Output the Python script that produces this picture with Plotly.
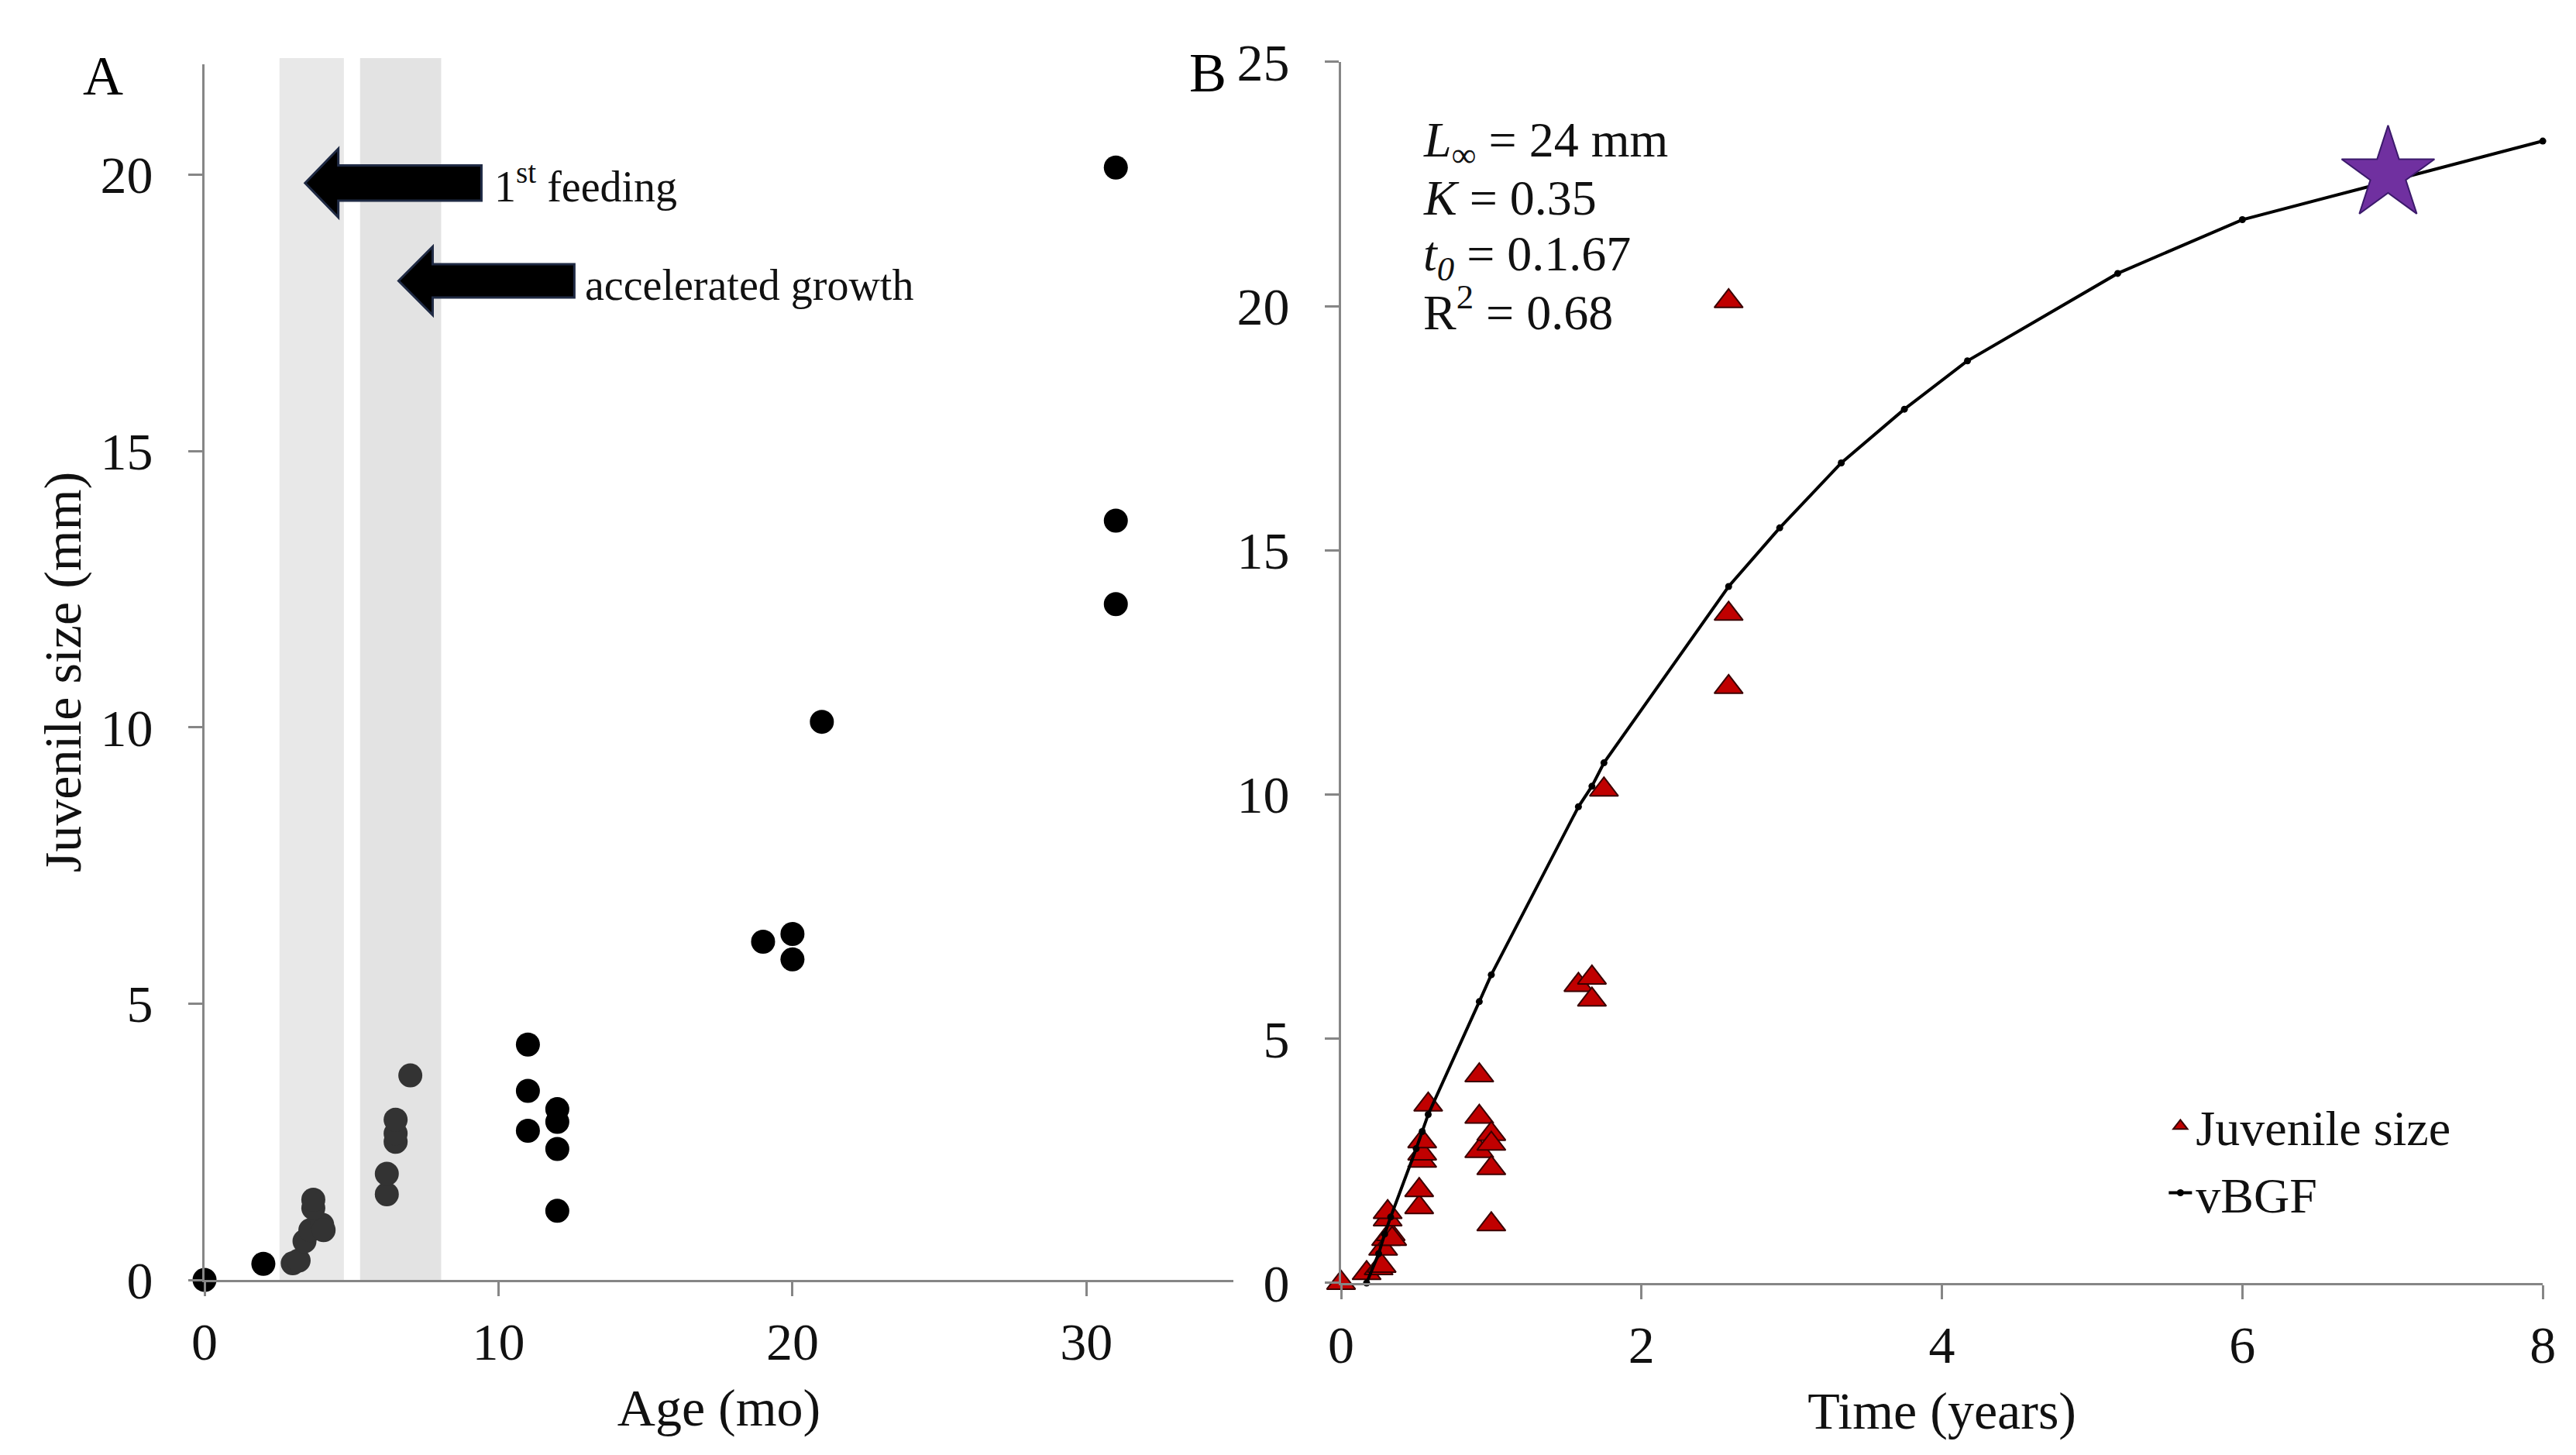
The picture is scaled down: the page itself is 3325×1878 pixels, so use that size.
import plotly.graph_objects as go

# panel A: age (months) vs juvenile size (mm)
age_early = [3.0, 3.2, 3.4, 3.6, 4.0, 4.05, 3.7, 3.7, 6.2, 6.2, 6.5, 6.5, 6.5, 7.0]
size_early = [0.3, 0.35, 0.7, 0.9, 1.0, 0.9, 1.3, 1.45, 1.55, 1.92, 2.5, 2.65, 2.9, 3.7]
age_late = [0, 2, 11, 11, 11, 12, 12, 12, 12, 19, 20, 20, 21, 31, 31, 31]
size_late = [0, 0.29, 4.26, 3.42, 2.70, 3.09, 2.86, 2.37, 1.25, 6.12, 6.26, 5.8, 10.1, 20.13, 13.74, 12.23]

# panel B: time (years) vs juvenile size, plus von Bertalanffy fit
time_juv = [0, 0.17, 0.25, 0.27, 0.28, 0.30, 0.33, 0.34, 0.31, 0.31, 0.52, 0.52, 0.54, 0.54, 0.54, 0.58,
            0.92, 0.92, 0.92, 1.0, 1.0, 1.0, 1.0, 1.58, 1.67, 1.67, 1.75, 2.58, 2.58, 2.58]
size_juv = [0, 0.2, 0.3, 0.35, 0.7, 0.9, 1.0, 0.9, 1.3, 1.45, 1.55, 1.9, 2.5, 2.65, 2.9, 3.65,
            4.25, 3.4, 2.7, 3.05, 2.85, 2.35, 1.2, 6.1, 6.25, 5.8, 10.1, 20.1, 13.7, 12.2]
time_vbgf = [0.17, 0.25, 0.29, 0.33, 0.5, 0.54, 0.58, 0.92, 1.0, 1.58, 1.67, 1.75, 2.58, 2.92,
             3.33, 3.75, 4.17, 5.17, 6.0, 8.0]
size_vbgf = [0, 0.6, 1.0, 1.35, 2.75, 3.1, 3.45, 5.76, 6.31, 9.75, 10.17, 10.65, 14.26, 15.46,
             16.79, 17.89, 18.88, 20.67, 21.77, 23.38]
star_time = [6.97]
star_size = [22.7]

FONT = "Liberation Serif"

fig = go.Figure()

fig.add_trace(go.Scatter(x=age_late, y=size_late, mode="markers", showlegend=False, cliponaxis=False,
                         marker=dict(size=31, color="#000000"), xaxis="x", yaxis="y"))
fig.add_trace(go.Scatter(x=age_early, y=size_early, mode="markers", showlegend=False, cliponaxis=False,
                         marker=dict(size=31, color="#333333"), xaxis="x", yaxis="y"))

fig.add_trace(go.Scatter(x=time_juv, y=size_juv, mode="markers", name="Juvenile size", cliponaxis=False,
                         marker=dict(symbol="triangle-up", size=32, color="#c00000",
                                     line=dict(color="#3a0000", width=2)),
                         xaxis="x2", yaxis="y2"))
fig.add_trace(go.Scatter(x=time_vbgf, y=size_vbgf, mode="lines+markers", name="vBGF", cliponaxis=False,
                         line=dict(color="#000000", width=4), marker=dict(size=9, color="#000000"),
                         xaxis="x2", yaxis="y2"))
fig.add_trace(go.Scatter(x=star_time, y=star_size, mode="markers", showlegend=False, cliponaxis=False,
                         marker=dict(symbol="star", size=90, color="#7030a0",
                                     line=dict(color="#3b1a6b", width=2)),
                         xaxis="x2", yaxis="y2"))

axis_style = dict(showline=True, linecolor="#868686", linewidth=3, ticks="outside", ticklen=18,
                  tickwidth=3, tickcolor="#868686", showgrid=False, zeroline=False, automargin=False,
                  tickfont=dict(family=FONT, size=68, color="#111111"))


def block_arrow(tip_x, tip_y, head_x, tail_x, body_half, head_half):
    return (f"M{tip_x},{tip_y} L{head_x},{tip_y + head_half} L{head_x},{tip_y + body_half} "
            f"L{tail_x},{tip_y + body_half} L{tail_x},{tip_y - body_half} L{head_x},{tip_y - body_half} "
            f"L{head_x},{tip_y - head_half} Z")


# bottom of panel A in paper units, so the grey bands can reach a bit above the axis top
a_bottom = 0.1246
shapes = [
    dict(type="rect", xref="x", yref="paper", x0=2.55, x1=4.74, y0=a_bottom, y1=0.9643,
         fillcolor="#e8e8e8", line=dict(width=0), layer="below"),
    dict(type="rect", xref="x", yref="paper", x0=5.29, x1=8.05, y0=a_bottom, y1=0.9643,
         fillcolor="#e3e3e3", line=dict(width=0), layer="below"),
    dict(type="path", xref="x", yref="y", path=block_arrow(3.42, 19.85, 4.55, 9.42, 0.32, 0.62),
         fillcolor="#000000", line=dict(color="#1f2a44", width=3), layer="above"),
    dict(type="path", xref="x", yref="y", path=block_arrow(6.6, 18.08, 7.76, 12.58, 0.3, 0.62),
         fillcolor="#000000", line=dict(color="#1f2a44", width=3), layer="above"),
]

annotations = [
    dict(text="A", x=0.0376, y=0.952, xref="paper", yref="paper", xanchor="center", yanchor="middle",
         showarrow=False, font=dict(family=FONT, size=72, color="#000000")),
    dict(text="B", x=0.4665, y=0.954, xref="paper", yref="paper", xanchor="center", yanchor="middle",
         showarrow=False, font=dict(family=FONT, size=72, color="#000000")),
    dict(text="1<sup>st</sup> feeding", x=9.8, y=19.85, xref="x", yref="y", xanchor="left",
         showarrow=False, font=dict(family=FONT, size=56, color="#111111")),
    dict(text="accelerated growth", x=12.9, y=18.0, xref="x", yref="y", xanchor="left",
         showarrow=False, font=dict(family=FONT, size=56, color="#111111")),
]
fit_lines = ["<i>L</i><sub>∞</sub> = 24 mm", "<i>K</i> = 0.35", "<i>t</i><sub><i>0</i></sub> = 0.1.67",
             "R<sup>2</sup> = 0.68"]
fit_y = [0.9057, 0.8682, 0.8273, 0.7922]
for txt, yy in zip(fit_lines, fit_y):
    annotations.append(dict(text=txt, x=0.5495, y=yy, xref="paper", yref="paper",
                            xanchor="left", yanchor="middle", showarrow=False,
                            font=dict(family=FONT, size=64, color="#111111")))

x_title_font = dict(family=FONT, size=68, color="#111111")
fig.update_layout(
    width=3325, height=1878, autosize=False,
    margin=dict(l=0, r=0, t=0, b=0),
    paper_bgcolor="white", plot_bgcolor="white",
    font=dict(family=FONT, size=68, color="#111111"),
    xaxis=dict(domain=[0.0770, 0.4764], range=[0, 35], tickvals=[0, 10, 20, 30], anchor="y",
               ticklabelstandoff=0,
               title=dict(text="Age (mo)", font=x_title_font, standoff=24), **axis_style),
    yaxis=dict(domain=[a_bottom, 0.9601], range=[0, 22], tickvals=[0, 5, 10, 15, 20], anchor="x",
               ticklabelstandoff=32,
               title=dict(text="Juvenile size (mm)", font=x_title_font, standoff=3), **axis_style),
    xaxis2=dict(domain=[0.5182, 0.9847], range=[0, 8], tickvals=[0, 2, 4, 6, 8], anchor="y2",
                ticklabelstandoff=0,
                title=dict(text="Time (years)", font=x_title_font, standoff=24), **axis_style),
    yaxis2=dict(domain=[0.1225, 0.9617], range=[0, 25], tickvals=[0, 5, 10, 15, 20, 25], anchor="x2",
                ticklabelstandoff=32, **axis_style),
    legend=dict(x=0.838, y=0.256, xanchor="left", yanchor="top", bgcolor="rgba(0,0,0,0)",
                font=dict(family=FONT, size=64, color="#111111"), itemsizing="trace",
                tracegroupgap=0),
    shapes=shapes,
    annotations=annotations,
)

fig.write_html("out.html")
